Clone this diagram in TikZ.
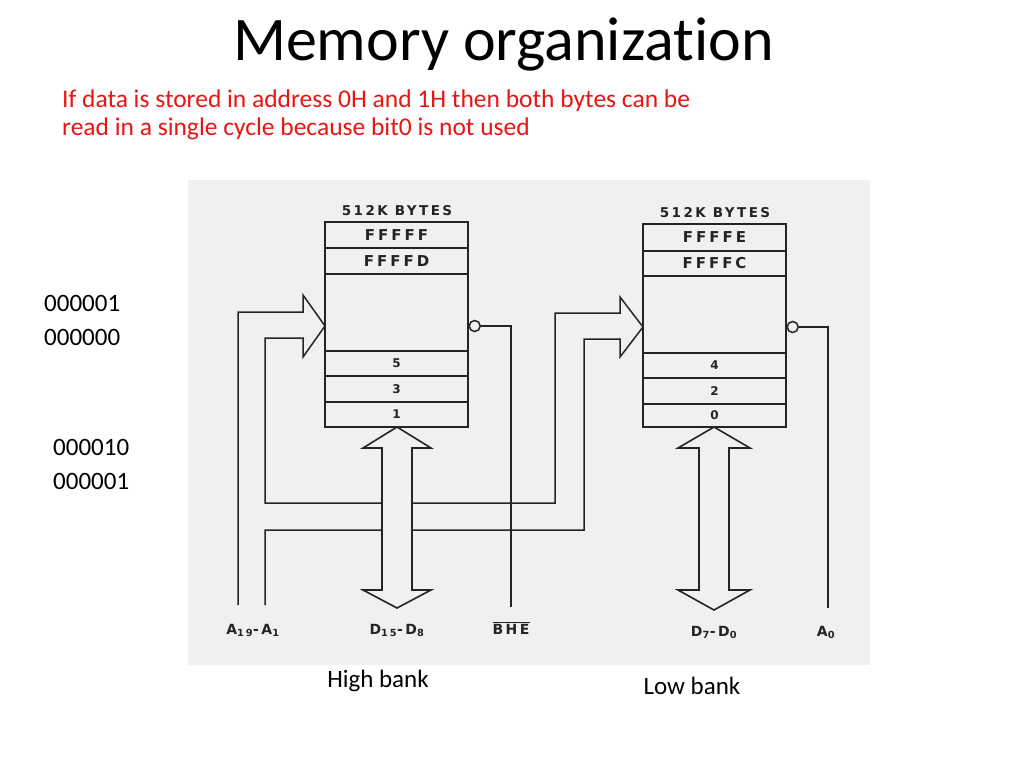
\documentclass[tikz,border=0pt]{standalone}
\usepackage{fontspec}
\setmainfont{Carlito}[Ligatures=CommonOff]
\newfontfamily\diagfont{DejaVu Sans}[LetterSpace=18]
\newfontfamily\rowfont{DejaVu Sans}[LetterSpace=20]
\usetikzlibrary{calc}
\definecolor{panel}{gray}{0.94}
\definecolor{ink}{gray}{0.14}
\definecolor{redtxt}{RGB}{235,20,20}
\begin{document}
\begin{tikzpicture}[x=1pt,y=-1pt,
  txt/.style={inner sep=0pt, font=\fontsize{25}{29}\selectfont},
  redline/.style={inner sep=0pt, font=\fontsize{25.5}{29}\selectfont, text=redtxt, anchor=base west},
  num/.style={txt, anchor=base west},
  banklabel/.style={txt, anchor=base},
  bank/.style={draw=ink, line width=2.4pt, minimum width=143pt, inner sep=0pt},
  row/.style={draw=ink, line width=1.6pt, minimum width=143pt, inner sep=0pt, font=\rowfont\bfseries\fontsize{15}{15}\selectfont, text=ink},
  digitrow/.style={row, font=\rowfont\bfseries\fontsize{12}{12}\selectfont},
  hdr/.style={inner sep=0pt, anchor=base, font=\diagfont\bfseries\fontsize{13.5}{13.5}\selectfont, text=ink},
  sig/.style={inner sep=0pt, anchor=base, font=\diagfont\bfseries\fontsize{14}{14}\selectfont, text=ink},
  wire/.style={draw=ink, line width=1.5pt, line join=miter},
  dbus/.style={draw=ink, fill=panel, line width=1.6pt, line join=miter},
  bubble/.style={circle, draw=ink, fill=panel, line width=1.5pt, minimum size=11pt, inner sep=0pt}
]
\fill[white] (0,0) rectangle (1024,768);
\path[use as bounding box] (0,0) rectangle (1024,768);

% title and notes
\node[anchor=base, inner sep=0pt, font=\fontsize{62}{70}\selectfont] (title) at (503.5,60) {Memory organization};
\node[redline] (note1) at (62,107) {If data is stored in address 0H and 1H then both bytes can be};
\node[redline] (note2) at (62,135) {read in a single cycle because bit0 is not used};

\node[num] (n1) at (44,311) {000001};
\node[num] (n2) at (44,345) {000000};
\node[num] (n3) at (53,455) {000010};
\node[num] (n4) at (53,489) {000001};

% scanned figure panel
\fill[panel] (188,180) rectangle (870,665);

% address bus (A19-A1) feeding both banks
\coordinate (aout) at (238,605);
\coordinate (ain) at (265,605);
\coordinate (htip) at (325,326);
\coordinate (ltip) at (643,327);
\draw[wire] (aout) -- (238,312) -- (303,312) -- (303,295) -- (htip) -- (303,357) -- (303,338)
  -- (265,338) -- (265,503) -- (555,503) -- (555,313) -- (620,313) -- (620,297) -- (ltip)
  -- (620,357) -- (620,339) -- (584,339) -- (584,530) -- (265,530) -- (ain);

% BHE and A0 lines
\coordinate (bheend) at (511,607);
\coordinate (a0end) at (828,608);

% data buses
\draw[dbus] (397,427) -- (431,448) -- (412,448) -- (412,590) -- (431,590) -- (397,608)
  -- (363,590) -- (382,590) -- (382,448) -- (363,448) -- cycle;
\draw[dbus] (714,427) -- (750,448) -- (729,448) -- (729,590) -- (750,590) -- (714,610)
  -- (678,590) -- (699,590) -- (699,448) -- (678,448) -- cycle;

% high bank
\node[hdr] (hhdr) at (397,215) {512K BYTES};
\node[bank, minimum height=205pt] (hb) at (396.5,324.5) {};
\node[row, minimum height=26pt] (hr1) at (396.5,235) {FFFFF};
\node[row, minimum height=26pt] (hr2) at (396.5,261) {FFFFD};
\node[digitrow, minimum height=25pt] (hr3) at (396.5,363.5) {5};
\node[digitrow, minimum height=26pt] (hr4) at (396.5,389) {3};
\node[digitrow, minimum height=25pt] (hr5) at (396.5,414.5) {1};
\node[bank, minimum height=205pt] at (hb) {};

% low bank
\node[hdr] (lhdr) at (715,217) {512K BYTES};
\node[bank, minimum height=203pt] (lb) at (714.5,325.5) {};
\node[row, minimum height=27pt] (lr1) at (714.5,237.5) {FFFFE};
\node[row, minimum height=25pt] (lr2) at (714.5,263.5) {FFFFC};
\node[digitrow, minimum height=25pt] (lr3) at (714.5,365.5) {4};
\node[digitrow, minimum height=26pt] (lr4) at (714.5,391) {2};
\node[digitrow, minimum height=23pt] (lr5) at (714.5,415.5) {0};
\node[bank, minimum height=203pt] at (lb) {};

% enable bubbles
\node[bubble] (hbub) at ($(hb.east |- htip)+(5.5,0)$) {};
\node[bubble] (lbub) at ($(lb.east |- ltip)+(5.5,0)$) {};
\draw[wire] (hbub.east) -- (bheend |- hbub) -- (bheend);
\draw[wire] (lbub.east) -- (a0end |- lbub) -- (a0end);

% signal labels
\node[sig] (la) at (253,634) {A\textsubscript{19}-A\textsubscript{1}};
\node[sig] (ld1) at (397,634) {D\textsubscript{15}-D\textsubscript{8}};
\node[sig] (lbhe) at (511,634) {$\overline{\hbox{BHE}}$};
\node[sig] (ld2) at (714,636) {D\textsubscript{7}-D\textsubscript{0}};
\node[sig] (la0) at (826,636) {A\textsubscript{0}};

% bank captions
\node[banklabel] (hbank) at (378,687) {High bank};
\node[banklabel] (lbank) at (692,694) {Low bank};
\end{tikzpicture}
\end{document}
